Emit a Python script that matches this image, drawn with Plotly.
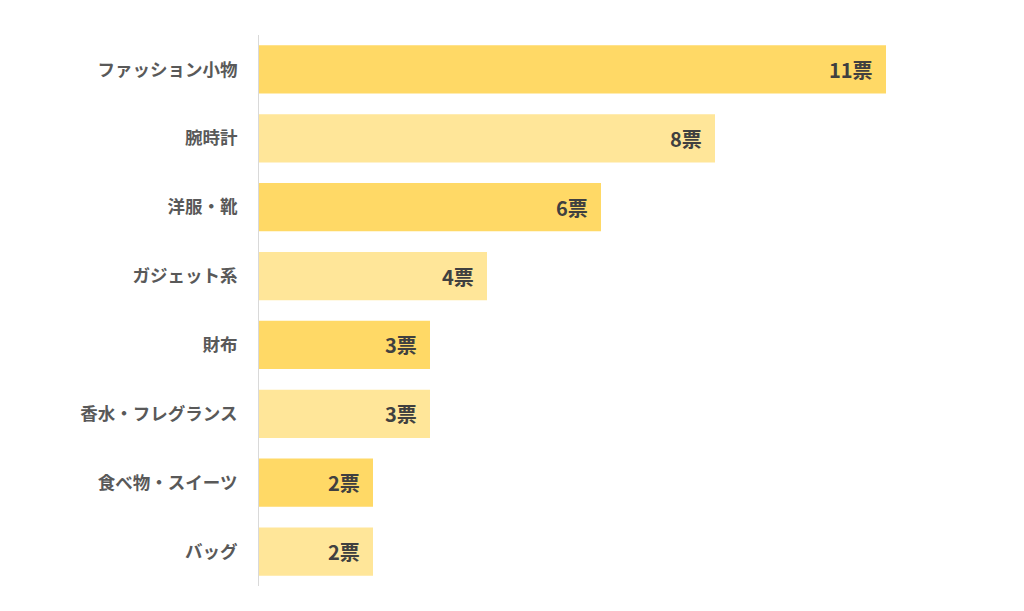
import plotly.graph_objects as go

categories = ["ファッション小物", "腕時計", "洋服・靴", "ガジェット系", "財布", "香水・フレグランス", "食べ物・スイーツ", "バッグ"]
votes = [11, 8, 6, 4, 3, 3, 2, 2]
value_labels = [f"{v}票" for v in votes]
colors = ["#FFD966" if i % 2 == 0 else "#FFE699" for i in range(len(categories))]

FONT = "Noto Sans CJK JP"

fig = go.Figure()
fig.add_trace(go.Bar(
    x=votes, y=categories, orientation="h",
    marker=dict(color=colors, line=dict(width=0)),
    width=0.7, hoverinfo="skip",
))

for c, v, t in zip(categories, votes, value_labels):
    fig.add_annotation(x=v, y=c, text=t, showarrow=False, xanchor="right",
                       xshift=-11, font=dict(family=FONT, size=20, color="#404040", weight="bold"))

fig.update_layout(
    width=1024, height=611,
    margin=dict(l=259, r=138, t=35, b=25),
    plot_bgcolor="white", paper_bgcolor="white",
    showlegend=False,
    xaxis=dict(range=[0, 11], visible=False, fixedrange=True),
    yaxis=dict(categoryorder="array", categoryarray=categories[::-1],
               autorange=False, range=[-0.5, len(categories) - 0.5],
               showline=True, linecolor="#D9D9D9", linewidth=1,
               showgrid=False, ticks="", ticklabelstandoff=17,
               tickfont=dict(family=FONT, size=17.5, color="#595959", weight="bold")),
)

fig.write_html("out.html")
